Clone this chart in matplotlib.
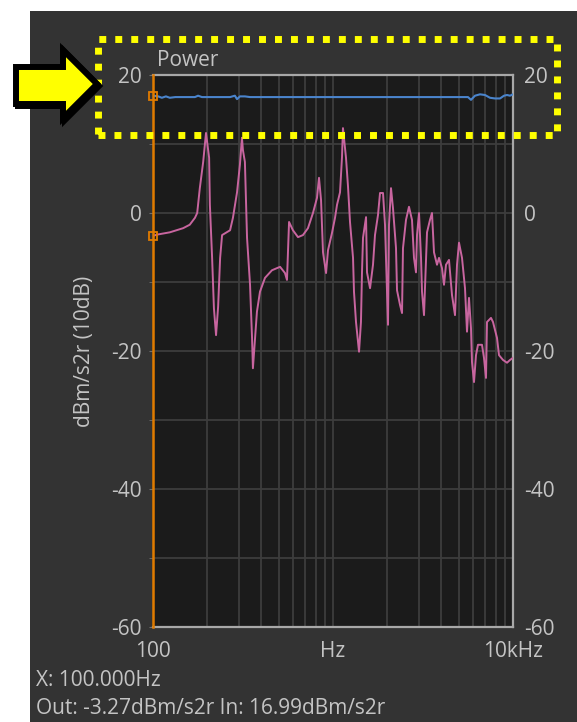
import matplotlib.pyplot as plt
from matplotlib.patches import Rectangle, Polygon
from matplotlib.ticker import NullLocator

# Output (pink) trace
freq_out = [100, 107, 124, 147, 160, 171, 176, 182, 190, 197,
            205, 207, 213, 218, 224, 230, 236, 242, 268, 278,
            293, 304, 312, 316, 324, 333, 346, 355, 359, 369,
            378, 393, 419, 458, 508, 541, 555, 562, 570, 599,
            639, 681, 726, 774, 815, 836, 858, 880, 915, 938,
            987, 1026, 1053, 1094, 1122, 1136, 1181, 1212, 1243, 1292,
            1308, 1342, 1395, 1430, 1449, 1468, 1526, 1545, 1606, 1668,
            1711, 1778, 1825, 1896, 1945, 1995, 2021, 2047, 2100, 2154,
            2239, 2268, 2356, 2418, 2448, 2544, 2643, 2747, 2818, 2891,
            2929, 3005, 3083, 3122, 3203, 3329, 3458, 3548, 3640, 3783,
            3881, 4032, 4137, 4244, 4410, 4583, 4762, 4886, 5012, 5208,
            5412, 5552, 5695, 5843, 5918, 6072, 6229, 6390, 6725, 6900,
            7079, 7170, 7546, 7743, 8149, 8360, 8799, 9262, 9623, 10000]
db_out = [-3.3, -3.1, -2.8, -2.2, -1.7, -0.7, 0.0, 3.6, 7.4, 11.6,
          8.0, 1.2, -6.5, -13.8, -17.7, -13.6, -6.5, -3.2, -2.5, -0.7,
          3.0, 7.0, 10.9, 9.1, 7.4, -3.6, -10.4, -18.1, -22.5, -18.1,
          -14.3, -11.4, -9.4, -8.3, -7.8, -8.7, -9.7, -5.7, -1.3, -2.5,
          -3.5, -3.2, -2.2, 0.0, 2.2, 5.1, 1.9, -5.7, -8.7, -5.4,
          -2.9, -0.7, 1.2, 3.0, 8.1, 12.3, 8.0, 3.8, -1.3, -6.5,
          -11.4, -15.8, -20.1, -15.8, -8.6, -3.6, -0.6, -8.6, -10.9, -7.5,
          -3.2, -0.3, 2.9, 2.9, -1.7, -11.4, -16.2, -1.7, 3.6, 0.7,
          -5.1, -11.2, -13.3, -14.5, -5.1, -1.0, 0.9, -1.0, -6.5, -8.6,
          -3.2, 0.0, -6.5, -11.4, -14.8, -2.8, -1.0, 0.0, -5.7, -7.5,
          -6.5, -8.0, -10.4, -7.5, -6.8, -11.9, -14.8, -7.5, -4.3, -6.5,
          -10.9, -17.2, -12.3, -16.7, -21.6, -24.5, -20.6, -19.1, -19.1, -21.0,
          -23.9, -15.8, -15.2, -15.8, -18.1, -20.6, -21.3, -21.7, -21.3, -21.0]

# Input (blue) trace
freq_in = [100, 107, 112, 118, 124, 133, 171, 178, 187, 221,
           268, 285, 293, 304, 324, 346, 656, 2678, 5623, 5843,
           6150, 6556, 6990, 7450, 7943, 8468, 8913, 9262, 9623, 10000]
db_in = [17.0, 16.9, 16.7, 16.9, 16.7, 16.8, 16.8, 17.0, 16.8, 16.8,
         16.8, 17.0, 16.5, 16.9, 16.9, 16.8, 16.8, 16.8, 16.8, 16.4,
         17.0, 17.2, 17.1, 16.7, 16.6, 16.6, 17.0, 17.1, 17.0, 17.2]

cursor_hz = 100
cursor_out = -3.27
cursor_in = 16.99

grid_hz = [200, 300, 400, 500, 600, 700, 800, 900, 1000,
           2000, 3000, 4000, 5000, 6000, 7000, 8000, 9000]
grid_db = [-50, -40, -30, -20, -10, 0, 10]

W, H = 577, 722
txt = '#c4c4c4'
fs = 15
plt.rcParams['font.family'] = ['Open Sans', 'DejaVu Sans']
plt.rcParams['axes.unicode_minus'] = False

fig = plt.figure(figsize=(W / 100, H / 100), dpi=100)
fig.patch.set_facecolor('white')

# dark window background
fig.patches.append(Rectangle((30 / W, 0), 1 - 30 / W, 1 - 11 / H, transform=fig.transFigure,
                             facecolor='#333333', edgecolor='none', zorder=-1))

ax = fig.add_axes([153 / W, 95 / H, 360 / W, 552 / H])
ax.set_facecolor('#1b1b1b')
ax.set_xscale('log')
ax.set_xlim(100, 10000)
ax.set_ylim(-60, 20)

for f in grid_hz:
    ax.axvline(f, color='#3d3d3d', lw=1.3, zorder=1)
for d in grid_db:
    ax.axhline(d, color='#3d3d3d', lw=1.3, zorder=1)

ax.plot(freq_out, db_out, color='#c8659f', lw=1.4, zorder=3)
ax.plot(freq_in, db_in, color='#4a84cc', lw=1.5, zorder=3)

# cursor markers
ax.plot([cursor_hz], [cursor_in], marker='s', ms=6, mfc='none', mec='#e07b00', mew=1.3,
        clip_on=False, zorder=5)
ax.plot([cursor_hz], [cursor_out], marker='s', ms=6, mfc='none', mec='#e07b00', mew=1.3,
        clip_on=False, zorder=5)

for s in ['top', 'right', 'bottom']:
    ax.spines[s].set_color('#a8a8a8')
    ax.spines[s].set_linewidth(1.6)
ax.spines['left'].set_color('#e07b00')
ax.spines['left'].set_linewidth(1.8)
ax.spines['left'].set_zorder(4)

ax.set_yticks([-60, -40, -20, 0, 20])
ax.set_yticks(grid_db, minor=True)
ax.tick_params(axis='y', which='both', left=True, right=False, labelright=True,
               length=3, color='#707070', labelcolor=txt, labelsize=fs, pad=5)

ax.set_xticks([100, 1000, 10000])
ax.set_xticklabels(['100', 'Hz', '10kHz'])
ax.xaxis.set_minor_locator(NullLocator())
ax.tick_params(axis='x', length=0, labelcolor=txt, labelsize=fs, pad=10)

ax.set_ylabel('dBm/s2r (10dB)', color=txt, fontsize=fs, labelpad=12)
ax.text(0.01, 1.008, 'Power', transform=ax.transAxes, ha='left', va='bottom',
        color=txt, fontsize=fs)

fig.text(36 / W, 1 - 680 / H, f'X: {cursor_hz:.3f}Hz', color=txt, fontsize=fs, va='center')
fig.text(36 / W, 1 - 708 / H, f'Out: {cursor_out:.2f}dBm/s2r In: {cursor_in:.2f}dBm/s2r',
         color=txt, fontsize=fs, va='center')

# yellow dotted highlight box
fig.patches.append(Rectangle((98 / W, 1 - 135 / H), 458.5 / W, 96.5 / H, transform=fig.transFigure,
                             facecolor='none', edgecolor='#ffff00', lw=5.0,
                             linestyle=(0, (1, 1.3)), zorder=10))

# arrow pointing at the box
arrow_px = [(16, 67), (63, 67), (63, 50), (97, 84), (63, 118), (63, 104), (16, 104)]
shadow = [((x + 2) / W, 1 - (y + 2) / H) for x, y in arrow_px]
fig.patches.append(Polygon(shadow, closed=True, transform=fig.transFigure, facecolor='black',
                           edgecolor='black', lw=4.3, joinstyle='miter', zorder=10))
arrow = [(x / W, 1 - y / H) for x, y in arrow_px]
fig.patches.append(Polygon(arrow, closed=True, transform=fig.transFigure, facecolor='#ffff00',
                           edgecolor='black', lw=4.3, joinstyle='miter', zorder=11))

fig.savefig('out.png', dpi=100)
